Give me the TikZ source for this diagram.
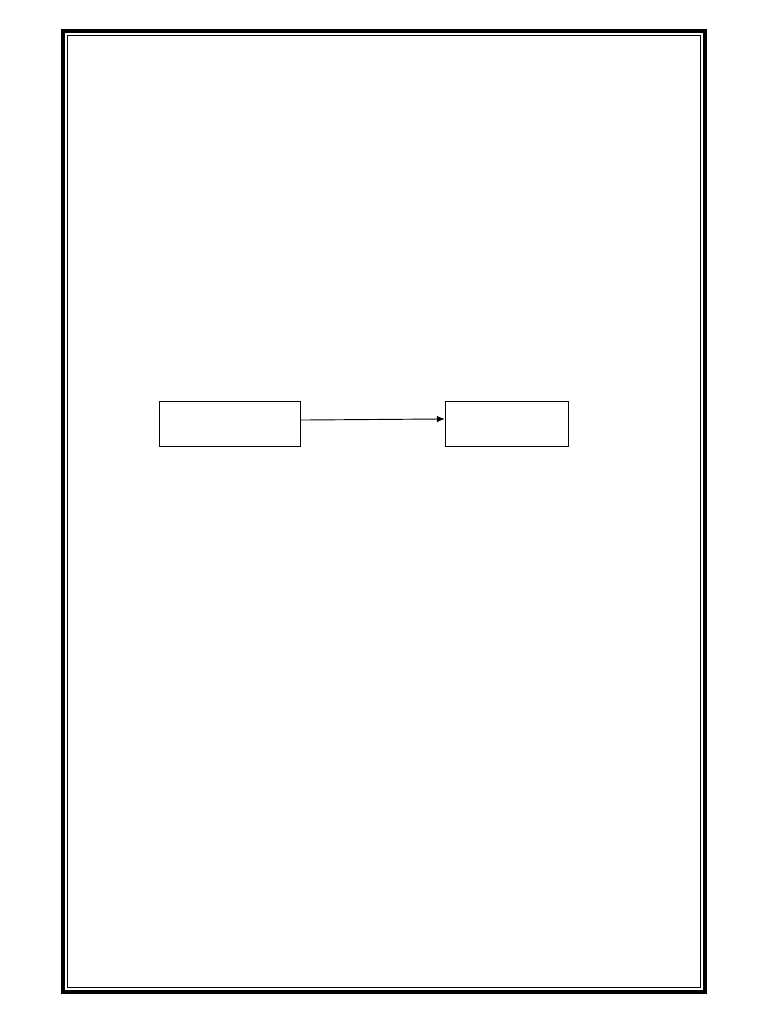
\documentclass[tikz,border=0pt]{standalone}
\usetikzlibrary{arrows.meta}
\begin{document}
\begin{tikzpicture}[x=0.75pt,y=-0.75pt,
  boxstyle/.style={draw=black,line width=0.75pt,rectangle,inner sep=0pt,fill=white},
  arrowstyle/.style={draw=black,line width=0.7pt,-{Latex[length=6pt,width=5pt]}}]
\useasboundingbox[fill=white] (0,0) rectangle (768,1024);
% page border
\draw[line width=3pt] (63,31) rectangle (705,992);
\draw[line width=0.75pt] (67.5,35.5) rectangle (700.5,987.5);
% boxes
\node[boxstyle,minimum width=105.75pt,minimum height=33.75pt] (box1) at (229.75,423.5) {};
\node[boxstyle,minimum width=92.6pt,minimum height=33.75pt] (box2) at (507,423.5) {};
\draw[arrowstyle] ([yshift=2.6pt]box1.east) -- ([yshift=3.4pt]box2.west);
\end{tikzpicture}
\end{document}
